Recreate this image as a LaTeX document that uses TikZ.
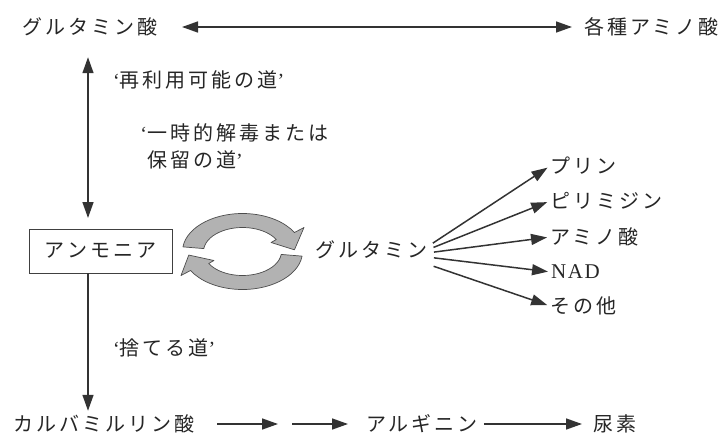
\documentclass[tikz,border=0pt]{standalone}
\usepackage{fontspec}
\setmainfont{Liberation Serif}
\newfontfamily\jp[LetterSpace=15]{Noto Sans CJK JP}
\newfontfamily\lat[LetterSpace=8]{Liberation Serif}
\newcommand\oq{{\rmfamily ‘}}
\newcommand\cq{{\rmfamily ’}}
\usetikzlibrary{arrows.meta,calc}
\begin{document}
\begin{tikzpicture}[x=1pt,y=-1pt,
  lbl/.style={inner sep=0pt, outer sep=0pt, font=\jp\fontsize{20}{27}\selectfont, text=black!85},
  boxed/.style={lbl, draw=black!75, line width=0.7pt, minimum width=143pt, minimum height=44pt},
  conn/.style={draw=black!80, line width=1.5pt, -{Triangle[length=16pt,width=11pt]}},
  dconn/.style={draw=black!80, line width=1.5pt, {Triangle[length=16pt,width=11pt]}-{Triangle[length=16pt,width=11pt]}},
  cyc/.style={fill=gray!60, draw=black!70, line width=0.7pt, line join=round}
]
\useasboundingbox (0,0) rectangle (727,436);

% top row
\node[lbl, anchor=west] (ga) at (22,27) {グルタミン酸};
\node[lbl, anchor=west] (ka) at (584,27) {各種アミノ酸};
\draw[dconn, shorten <=25pt, shorten >=12pt] (ga) -- (ka);

% ammonia box
\node[boxed] (amm) at (100.5,251) {アンモニア};
\coordinate (vx) at (88,0);
\draw[dconn, shorten <=21pt, shorten >=11pt] (ga.south -| vx) -- (amm.north -| vx);

% labels on the left path
\node[lbl, anchor=west] (reuse) at (113,80) {\oq 再利用可能の道\cq};
\node[lbl, anchor=west, align=left] (temp) at (147,146.5) {\llap{\oq}一時的解毒または\\保留の道\cq};
\node[lbl, anchor=west] (waste) at (113,348) {\oq 捨てる道\cq};

% bottom row
\node[lbl, anchor=west] (carb) at (13,424) {カルバミルリン酸};
\draw[conn, shorten >=4pt] (amm.south -| vx) -- (carb.north -| vx);
\coordinate (m1) at (278,424);
\coordinate (m2) at (292,424);
\node[lbl, anchor=west] (arg) at (366,424) {アルギニン};
\node[lbl, anchor=west] (urea) at (593,424) {尿素};
\draw[conn, shorten <=23pt] (carb) -- (m1);
\draw[conn, shorten >=18pt] (m2) -- (arg);
\draw[conn, shorten <=6pt, shorten >=11pt] (arg) -- (urea);

% cycle arrows
\coordinate (C) at (242.5,251.5);
\fill[cyc] (C) ++(-173:60 and 38) arc[start angle=-173,end angle=-30,x radius=60,y radius=38]
  -- ($(C)+(-30:71 and 48)$) -- ($(C)+(-3:52 and 32)$) -- ($(C)+(-30:33 and 18)$)
  -- ($(C)+(-30:39 and 24)$) arc[start angle=-30,end angle=-173,x radius=39,y radius=24] -- cycle;
\fill[cyc] (C) ++(7:60 and 38) arc[start angle=7,end angle=150,x radius=60,y radius=38]
  -- ($(C)+(150:71 and 48)$) -- ($(C)+(174:54 and 34)$) -- ($(C)+(150:33 and 18)$)
  -- ($(C)+(150:39 and 24)$) arc[start angle=150,end angle=7,x radius=39,y radius=24] -- cycle;

% glutamine and products
\node[lbl, anchor=west] (glu) at (315,250) {グルタミン};
\node[lbl, anchor=west] (pu) at (550,166) {プリン};
\node[lbl, anchor=west] (py) at (550,201) {ピリミジン};
\node[lbl, anchor=west] (aa) at (550,237) {アミノ酸};
\node[lbl, anchor=west, font=\lat\fontsize{21}{24}\selectfont] (nad) at (551,272) {NAD};
\node[lbl, anchor=west] (so) at (550,306) {その他};
\draw[conn, shorten <=7pt, shorten >=3pt] ([yshift=3pt]glu.east) -- (pu.west);
\draw[conn, shorten <=7pt, shorten >=3pt] ([yshift=0pt]glu.east) -- (py.west);
\draw[conn, shorten <=7pt, shorten >=3pt] ([yshift=-3pt]glu.east) -- (aa.west);
\draw[conn, shorten <=7pt, shorten >=3pt] ([yshift=-7pt]glu.east) -- (nad.west);
\draw[conn, shorten <=7pt, shorten >=3pt] ([yshift=-14pt]glu.east) -- (so.west);
\end{tikzpicture}
\end{document}
